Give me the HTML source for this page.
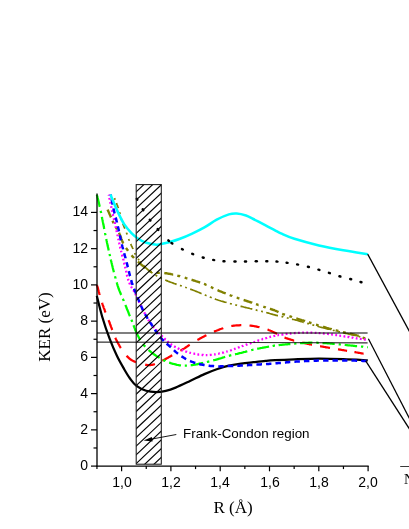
<!DOCTYPE html>
<html><head><meta charset="utf-8"><title>KER chart</title>
<style>
html,body{margin:0;padding:0;background:#fff;}
body{width:409px;height:529px;position:relative;overflow:hidden;font-family:"Liberation Sans",sans-serif;color:#000;}
.yl,.xl,.fc,.xt,.yt span,.nn{will-change:transform;}
.yl{position:absolute;left:39.2px;width:49px;text-align:right;font-size:14px;line-height:16px;height:16px;}
.xl{position:absolute;top:473.8px;width:40px;text-align:center;font-size:14px;line-height:16px;height:16px;}
.fc{position:absolute;left:183.2px;top:425.7px;font-size:13.4px;line-height:15px;white-space:nowrap;}
.xt{position:absolute;left:182.8px;width:100px;text-align:center;top:497.5px;font-family:"Liberation Serif",serif;font-size:17px;line-height:20px;white-space:nowrap;}
.yt{position:absolute;left:45px;top:326.5px;width:0;height:0;}
.yt span{position:absolute;left:-50px;top:-10px;width:100px;height:20px;line-height:20px;text-align:center;font-family:"Liberation Serif",serif;font-size:17px;transform:rotate(-90deg);white-space:nowrap;display:block;}
.nn{position:absolute;left:403.9px;top:471.3px;font-family:"Liberation Serif",serif;font-size:14.5px;line-height:16px;}
</style></head><body>
<svg width="409" height="529" viewBox="0 0 409 529" style="position:absolute;left:0;top:0">
<defs><clipPath id="cp"><rect x="136.2" y="184.6" width="25.1" height="279.6"/></clipPath></defs>
<path d="M96.80 295.90 C97.70 299.37 100.07 309.57 102.20 316.70 C104.33 323.83 107.15 332.18 109.60 338.70 C112.05 345.22 114.47 350.72 116.90 355.80 C119.33 360.88 122.02 365.42 124.20 369.20 C126.38 372.98 127.95 375.72 130.00 378.50 C132.05 381.28 133.80 383.85 136.50 385.90 C139.20 387.95 142.95 389.78 146.20 390.80 C149.45 391.82 152.73 392.00 156.00 392.00 C159.27 392.00 162.53 391.53 165.80 390.80 C169.07 390.07 171.57 389.23 175.60 387.60 C179.63 385.97 185.20 383.25 190.00 381.00 C194.80 378.75 199.95 376.07 204.40 374.10 C208.85 372.13 212.62 370.62 216.70 369.20 C220.78 367.78 224.83 366.53 228.90 365.60 C232.97 364.67 237.03 364.17 241.10 363.60 C245.17 363.03 249.22 362.65 253.30 362.20 C257.38 361.75 261.98 361.23 265.60 360.90 C269.22 360.57 270.20 360.47 275.00 360.20 C279.80 359.93 287.08 359.57 294.40 359.30 C301.72 359.03 310.75 358.63 318.90 358.60 C327.05 358.57 335.15 358.82 343.30 359.10 C351.45 359.38 363.72 360.10 367.80 360.30" fill="none" stroke="#000" stroke-width="2.25" stroke-linecap="butt"/>
<path d="M97.0 284.9 L97.1 285.4 L97.2 286.0 L97.4 286.6 L97.6 287.2 L97.8 287.9 L98.0 288.6 L98.2 289.4 L98.4 290.2 L98.6 291.0 L98.8 291.8 L99.1 292.7 L99.3 293.6 L99.6 294.5 L99.7 294.9 M102.1 302.8 L102.3 303.6 L102.6 304.3 L102.8 305.1 L103.1 305.8 L103.4 306.6 L103.6 307.3 L103.9 308.1 L104.2 308.8 L104.5 309.6 L104.8 310.4 L105.0 311.1 L105.3 311.9 L105.6 312.5 M108.6 320.2 L108.9 321.0 L109.2 321.7 L109.5 322.4 L109.7 323.2 L110.0 324.0 L110.3 324.7 L110.6 325.5 L110.9 326.3 L111.2 327.1 L111.5 327.8 L111.8 328.6 L112.0 329.4 L112.3 330.0 M115.3 337.8 L115.6 338.5 L116.0 339.2 L116.3 339.9 L116.6 340.6 L117.0 341.3 L117.4 342.0 L117.8 342.8 L118.2 343.5 L118.7 344.3 L119.1 345.0 L119.5 345.8 L120.0 346.5 L120.4 347.3 L120.9 348.0 M126.6 355.7 L127.2 356.4 L127.9 357.1 L128.5 357.7 L129.2 358.3 L129.8 358.8 L130.4 359.3 L131.0 359.7 L131.7 360.1 L132.3 360.5 L132.9 360.8 L133.6 361.1 L134.3 361.5 L135.0 361.8 L135.7 362.1 L136.1 362.3 M145.2 364.6 L145.9 364.8 L146.7 364.9 L147.6 365.0 L148.4 365.0 L149.2 365.1 L149.9 365.0 L150.6 365.0 L151.3 364.9 L152.1 364.8 L152.9 364.6 L153.8 364.4 L154.4 364.2 L154.9 364.0 M162.3 360.7 L163.1 360.3 L163.8 360.0 L164.4 359.6 L165.1 359.2 L165.8 358.9 L166.5 358.5 L167.3 358.1 L168.0 357.7 L168.7 357.2 L169.5 356.8 L170.2 356.4 L170.9 356.0 L171.7 355.5 L172.2 355.2 M180.4 350.7 L181.1 350.3 L181.7 349.9 L182.4 349.5 L183.1 349.1 L183.7 348.8 L184.4 348.4 L185.0 348.0 L185.7 347.5 L186.4 347.1 L187.0 346.7 L187.6 346.2 L188.2 345.8 L188.8 345.4 L189.4 344.9 L189.7 344.7 M197.4 340.0 L198.2 339.6 L198.9 339.2 L199.6 338.8 L200.4 338.3 L201.1 337.9 L201.9 337.5 L202.6 337.1 L203.3 336.8 L204.0 336.4 L204.8 336.0 L205.5 335.6 L206.2 335.3 L206.4 335.2 M214.0 331.7 L214.7 331.4 L215.4 331.1 L216.2 330.8 L216.9 330.5 L217.7 330.2 L218.4 329.9 L219.2 329.6 L219.9 329.3 L220.7 329.0 L221.5 328.8 L222.2 328.5 L223.0 328.2 L223.2 328.1 M231.3 326.0 L232.1 325.9 L232.9 325.8 L233.7 325.7 L234.5 325.6 L235.3 325.5 L236.1 325.4 L236.9 325.4 L237.7 325.3 L238.5 325.3 L239.3 325.3 L240.1 325.2 L240.9 325.2 L241.3 325.2 M249.5 325.5 L250.3 325.6 L251.1 325.7 L251.9 325.8 L252.7 325.9 L253.5 326.0 L254.3 326.2 L255.1 326.3 L255.9 326.4 L256.7 326.6 L257.5 326.8 L258.3 327.0 L259.1 327.1 L259.5 327.2 M267.5 329.5 L268.3 329.8 L269.1 330.2 L269.9 330.5 L270.6 330.8 L271.4 331.1 L272.1 331.4 L272.8 331.8 L273.5 332.1 L274.2 332.4 L274.8 332.7 L275.6 333.1 L276.3 333.5 L277.0 333.9 M284.5 337.6 L285.3 337.8 L286.0 338.1 L286.8 338.3 L287.6 338.6 L288.4 338.8 L289.2 339.1 L290.0 339.3 L290.8 339.6 L291.6 339.8 L292.4 340.0 L293.2 340.3 L294.0 340.5 L294.2 340.5 M302.2 342.6 L303.0 342.8 L303.8 342.9 L304.6 343.1 L305.3 343.3 L306.1 343.5 L306.9 343.6 L307.7 343.8 L308.4 344.0 L309.1 344.1 L309.7 344.3 L310.4 344.4 L311.0 344.5 L311.7 344.7 L312.0 344.7 M320.1 346.2 L320.8 346.3 L321.5 346.5 L322.2 346.6 L322.9 346.7 L323.7 346.8 L324.5 347.0 L325.3 347.1 L326.1 347.3 L326.9 347.4 L327.7 347.5 L328.5 347.7 L329.4 347.8 L330.0 347.9 M338.0 349.3 L338.8 349.4 L339.6 349.6 L340.4 349.7 L341.2 349.8 L342.0 350.0 L342.7 350.1 L343.5 350.2 L344.4 350.4 L345.3 350.5 L346.2 350.7 L347.1 350.8 M354.4 352.1 L355.3 352.2 L356.1 352.4 L357.0 352.5 L357.8 352.6 L358.6 352.8 L359.3 352.9 L360.0 353.0 L360.7 353.1 L361.4 353.3 L362.0 353.4 L362.6 353.5 L363.2 353.6 L363.6 353.6" fill="none" stroke="#ff0000" stroke-width="2.25" stroke-linecap="butt"/>
<path d="M96.9 194.8 L97.0 195.3 L97.1 195.8 L97.3 196.3 L97.4 196.8 L97.5 197.4 L97.7 198.1 L97.9 198.7 L98.0 199.4 L98.2 200.1 L98.4 200.9 L98.6 201.7 L98.8 202.5 L99.0 203.4 L99.2 204.3 L99.4 205.2 L99.6 206.2 L99.8 206.9 M100.6 210.9 L100.9 212.0 L101.1 212.9 L101.1 213.0 M101.9 216.8 L102.0 217.5 L102.1 218.2 L102.3 218.9 L102.4 219.7 L102.6 220.4 L102.7 221.2 L102.9 222.0 L103.0 222.7 L103.2 223.5 L103.3 224.3 L103.5 225.1 L103.7 225.9 L103.8 226.8 L104.0 227.6 L104.1 228.4 L104.3 229.0 M105.1 233.0 L105.2 233.9 L105.4 234.7 L105.5 235.2 M106.2 239.0 L106.4 239.8 L106.6 240.7 L106.8 241.5 L106.9 242.4 L107.1 243.2 L107.3 244.0 L107.5 244.8 L107.6 245.6 L107.8 246.4 L108.0 247.2 L108.2 248.0 L108.3 248.8 L108.5 249.6 L108.7 250.4 M109.5 253.9 L109.7 254.7 L109.9 255.5 L110.0 256.2 M110.8 259.5 L111.0 260.4 L111.2 261.2 L111.4 262.0 L111.6 262.9 L111.8 263.7 L112.0 264.6 L112.2 265.4 L112.4 266.2 L112.6 267.0 L112.8 267.9 L113.0 268.7 L113.2 269.5 L113.4 270.3 L113.6 271.1 L113.8 271.9 L113.9 272.3 M115.0 276.3 L115.2 277.0 L115.4 277.7 L115.6 278.4 L115.6 278.6 M116.7 282.4 L116.9 283.0 L117.1 283.8 L117.4 284.8 L117.7 285.8 L118.0 286.7 L118.3 287.6 L118.6 288.5 L118.9 289.3 L119.2 290.1 L119.5 290.9 L119.8 291.6 L120.1 292.3 L120.4 293.0 L120.6 293.7 L120.9 294.4 L121.2 295.0 M122.8 298.7 L123.1 299.4 L123.4 300.0 L123.7 300.7 L123.8 301.1 M125.3 304.9 L125.7 305.7 L126.0 306.4 L126.3 307.2 L126.6 308.0 L126.9 308.8 L127.2 309.6 L127.6 310.4 L127.9 311.1 L128.2 311.9 L128.5 312.7 L128.8 313.5 L129.1 314.2 L129.4 315.0 L129.7 315.7 L130.0 316.2 M131.3 319.7 L131.6 320.3 L132.0 321.2 L132.2 321.9 M133.5 325.3 L133.8 326.0 L134.1 326.7 L134.3 327.4 L134.6 328.1 L134.9 328.8 L135.1 329.5 L135.4 330.2 L135.7 330.9 L136.0 331.6 L136.3 332.2 L136.7 333.0 L137.0 333.7 L137.4 334.5 L137.7 335.2 L138.1 336.0 L138.5 336.7 L138.9 337.4 L139.2 338.2 L139.6 338.9 L140.0 339.6 L140.3 340.1 M143.1 344.2 L143.6 344.9 L144.1 345.5 L144.7 346.1 L145.2 346.7 M148.7 350.0 L149.3 350.6 L149.9 351.1 L150.5 351.6 L151.1 352.1 L151.7 352.6 L152.4 353.1 L153.0 353.6 L153.7 354.1 L154.3 354.6 L155.0 355.0 L155.7 355.5 L156.3 355.9 L157.0 356.4 L157.7 356.8 L158.4 357.2 L159.1 357.6 L159.6 357.9 M163.1 359.9 L163.8 360.3 L164.5 360.6 L165.3 360.9 L165.4 361.0 M169.1 362.6 L169.9 362.8 L170.7 363.1 L171.4 363.3 L172.2 363.6 L173.0 363.8 L173.8 364.0 L174.6 364.2 L175.4 364.4 L176.2 364.6 L177.0 364.8 L177.9 365.0 L178.7 365.1 L179.5 365.3 L180.3 365.4 L181.0 365.5 M184.8 365.7 L185.6 365.7 L186.4 365.7 L186.9 365.7 M190.7 365.3 L191.5 365.2 L192.4 365.1 L193.1 365.0 L193.9 364.8 L194.6 364.7 L195.4 364.6 L196.2 364.4 L197.0 364.3 L197.8 364.1 L198.6 363.9 L199.4 363.7 L200.2 363.6 L201.0 363.4 L201.8 363.2 L202.6 363.0 L203.2 362.9 M206.9 362.0 L207.7 361.8 L208.5 361.6 L209.3 361.4 M213.2 360.4 L214.0 360.2 L214.8 360.0 L215.5 359.8 L216.3 359.6 L217.1 359.4 L217.9 359.2 L218.6 358.9 L219.4 358.7 L220.2 358.5 L221.0 358.2 L221.7 358.0 L222.5 357.7 L223.3 357.5 L224.1 357.2 L224.8 357.0 L225.2 356.9 M228.9 355.8 L229.7 355.6 L230.5 355.4 L231.3 355.2 M235.0 354.3 L235.8 354.1 L236.6 354.0 L237.4 353.8 L238.1 353.6 L238.9 353.4 L239.7 353.2 L240.5 353.0 L241.3 352.9 L242.1 352.7 L242.8 352.5 L243.6 352.2 L244.4 352.0 L245.2 351.8 L245.9 351.6 L246.7 351.4 L247.3 351.2 M251.2 350.2 L251.9 350.0 L252.7 349.8 L253.5 349.7 M257.2 348.9 L258.0 348.7 L258.8 348.5 L259.6 348.4 L260.4 348.2 L261.2 348.0 L262.0 347.9 L262.8 347.7 L263.6 347.6 L264.3 347.4 L265.1 347.3 L265.8 347.2 L266.7 347.0 L267.6 346.8 L268.5 346.7 L269.1 346.6 M272.6 346.0 L273.4 345.8 L274.1 345.7 L274.8 345.6 L275.0 345.6 M278.6 345.2 L279.3 345.1 L280.1 345.0 L281.0 344.9 L281.9 344.8 L282.7 344.7 L283.4 344.7 L284.1 344.6 L284.8 344.5 L285.6 344.4 L286.4 344.4 L287.3 344.3 L288.1 344.2 L288.9 344.1 L289.8 344.0 L290.4 344.0 M294.2 343.6 L295.0 343.6 L295.8 343.5 L296.4 343.4 M300.0 343.2 L300.9 343.1 L301.7 343.1 L302.5 343.0 L303.3 343.0 L304.1 342.9 L304.9 342.9 L305.7 342.8 L306.5 342.8 L307.3 342.8 L308.1 342.8 L308.9 342.7 L309.8 342.7 L310.6 342.7 L311.4 342.7 L312.2 342.7 L312.4 342.7 M316.3 342.7 L317.1 342.7 L317.9 342.8 L318.7 342.8 M322.5 343.0 L323.3 343.0 L324.1 343.1 L324.9 343.1 L325.7 343.2 L326.5 343.2 L327.3 343.3 L328.1 343.4 L328.9 343.4 L329.7 343.5 L330.5 343.6 L331.3 343.6 L332.1 343.7 L332.9 343.8 L333.7 343.8 L334.5 343.9 L334.7 343.9 M338.7 344.3 L339.5 344.4 L340.3 344.5 L340.9 344.6 M344.7 344.9 L345.5 345.0 L346.3 345.1 L347.1 345.2 L347.9 345.3 L348.7 345.3 L349.6 345.4 L350.4 345.5 L351.2 345.6 L352.0 345.6 L352.8 345.7 L353.6 345.8 L354.4 345.9 L355.2 346.0 L356.0 346.0 L356.9 346.1 L357.1 346.1 M361.0 346.5 L361.9 346.6 L362.8 346.7 L363.2 346.8 M367.1 347.1 L367.6 347.2 L367.8 347.2" fill="none" stroke="#00ff00" stroke-width="2.25" stroke-linecap="butt"/>
<path d="M107.6 209.6 L107.8 210.1 L108.1 210.6 L108.3 211.2 L108.6 211.9 L108.9 212.6 L109.3 213.4 L109.6 214.2 L110.0 215.1 L110.4 215.9 L110.7 216.8 L111.0 217.4 M112.5 220.8 L112.9 221.6 L113.2 222.4 L113.6 223.1 L113.6 223.2 M115.8 227.2 L116.2 227.8 L116.6 228.5 L117.0 229.1 L117.2 229.4 M119.0 232.8 L119.3 233.5 L119.7 234.3 L120.0 235.0 L120.3 235.8 L120.6 236.6 L120.9 237.4 L121.2 238.3 L121.5 239.1 L121.8 239.8 L122.1 240.6 L122.4 241.3 L122.6 242.0 L122.9 242.7 L123.2 243.3 L123.3 243.5 M125.9 247.9 L126.4 248.5 L126.9 249.2 L127.3 249.8 L127.8 250.5 L128.0 250.8 M131.6 255.3 L132.1 256.0 L132.7 256.6 L133.2 257.1 L133.8 257.7 L134.0 258.0 M137.9 261.7 L138.5 262.2 L139.1 262.8 L139.7 263.3 L140.3 263.8 L141.0 264.3 L141.6 264.9 L142.3 265.4 L142.9 265.9 L143.6 266.4 L144.2 266.9 L144.8 267.4 L145.5 267.9 M149.0 270.6 L149.7 271.0 L150.3 271.5 L151.0 271.8 L151.6 272.1 M156.7 272.9 L157.4 272.9 L158.2 272.9 L159.0 272.9 L159.8 272.9 M164.3 273.0 L164.9 273.1 L165.6 273.2 L166.4 273.3 L167.1 273.4 L167.9 273.6 L168.8 273.7 L169.6 273.9 L170.5 274.0 L171.3 274.2 L172.2 274.4 L173.0 274.6 L173.2 274.6 M177.3 275.6 L178.1 275.8 L178.9 276.0 L179.7 276.2 L180.1 276.4 M184.7 277.7 L185.4 277.9 L186.3 278.2 L187.0 278.4 L187.4 278.5 M191.5 279.8 L192.4 280.0 L193.0 280.2 L193.7 280.5 L194.4 280.7 L195.1 280.9 L195.8 281.1 L196.6 281.3 L197.4 281.6 L198.2 281.8 L199.0 282.1 L199.8 282.4 L200.2 282.5 M204.0 283.8 L204.8 284.1 L205.5 284.5 L206.2 284.8 L206.6 284.9 M210.8 287.0 L211.6 287.3 L212.3 287.7 L213.0 288.1 L213.4 288.3 M217.5 290.1 L218.2 290.4 L219.0 290.8 L219.7 291.1 L220.5 291.4 L221.2 291.7 L222.0 292.0 L222.7 292.3 L223.5 292.6 L224.2 292.9 L225.0 293.2 L225.7 293.5 M229.7 295.0 L230.4 295.3 L231.2 295.6 L232.0 295.8 L232.3 296.0 M236.7 297.6 L237.5 297.8 L238.2 298.1 L239.0 298.4 L239.4 298.5 M243.6 300.0 L244.3 300.2 L245.1 300.5 L245.9 300.7 L246.6 301.0 L247.4 301.2 L248.1 301.5 L248.9 301.7 L249.7 302.0 L250.4 302.2 L251.2 302.5 L252.0 302.7 L252.2 302.8 M256.0 304.1 L256.8 304.4 L257.6 304.7 L258.4 305.0 L258.6 305.0 M263.3 306.6 L264.0 306.9 L264.7 307.1 L265.4 307.3 L265.8 307.5 M269.9 308.8 L270.7 309.0 L271.5 309.3 L272.2 309.5 L272.9 309.8 L273.6 310.0 L274.3 310.2 L275.0 310.5 L275.8 310.8 L276.5 311.2 L277.2 311.5 L277.9 311.8 L278.5 312.1 M282.2 313.8 L282.8 314.0 L283.5 314.3 L284.2 314.5 L284.9 314.8 M289.4 316.2 L290.2 316.5 L291.0 316.7 L291.8 317.0 L292.0 317.1 M296.3 318.4 L297.1 318.6 L297.9 318.9 L298.6 319.1 L299.4 319.4 L300.2 319.6 L300.9 319.8 L301.7 320.1 L302.5 320.3 L303.2 320.5 L304.0 320.8 L304.8 321.0 L305.0 321.1 M308.8 322.3 L309.6 322.5 L310.3 322.8 L311.1 323.0 L311.5 323.1 M316.0 324.6 L316.8 324.8 L317.6 325.1 L318.3 325.3 L318.7 325.4 M323.0 326.7 L323.7 327.0 L324.5 327.2 L325.3 327.4 L326.1 327.7 L326.8 327.9 L327.6 328.1 L328.4 328.3 L329.2 328.6 L329.9 328.8 L330.7 329.0 L331.5 329.2 L331.7 329.3 M335.6 330.3 L336.4 330.5 L337.2 330.7 L338.0 330.9 L338.4 331.0 M342.9 332.1 L343.7 332.3 L344.5 332.5 L345.3 332.7 L345.7 332.8 M349.9 333.7 L350.7 333.9 L351.5 334.0 L352.3 334.2 L353.1 334.4 L353.8 334.6 L354.5 334.7 L355.1 334.9 L355.9 335.1 L356.9 335.4 L357.8 335.6 L358.6 335.9 L358.8 335.9 M362.6 337.5 L363.4 337.8 L364.3 338.2 L365.1 338.6" fill="none" stroke="#808000" stroke-width="2.4" stroke-linecap="butt"/>
<path d="M114.5 198.1 L114.8 198.8 L115.1 199.6 L115.2 199.8 M116.5 203.0 L116.8 203.9 L117.1 204.8 L117.5 205.6 L117.8 206.5 L118.1 207.3 L118.4 208.1 M119.6 212.1 L119.8 212.9 L120.0 213.7 L120.0 213.9 M121.2 218.4 L121.4 219.2 L121.6 219.9 L121.7 220.3 M122.8 223.6 L123.1 224.4 L123.4 225.2 L123.7 225.9 L124.0 226.7 L124.3 227.4 L124.6 228.1 L124.9 228.6 M126.5 232.6 L126.7 233.4 L127.0 234.1 L127.1 234.5 M128.6 239.0 L128.9 239.8 L129.2 240.6 L129.2 240.8 M130.7 244.0 L131.1 244.8 L131.4 245.6 L131.8 246.3 L132.2 247.1 L132.5 247.8 L132.9 248.5 L133.1 249.0 M134.7 253.0 L135.0 253.7 L135.3 254.3 L135.5 254.7 M138.1 258.8 L138.6 259.6 L139.1 260.2" fill="none" stroke="#808000" stroke-width="1.7" stroke-linecap="butt"/>
<path d="M140.0 261.5 L140.3 261.9 L140.7 262.3 L141.1 262.7 M143.4 265.3 L144.0 266.0 L144.7 266.7 L145.3 267.3 L145.9 267.9 L146.5 268.4 L147.1 269.0 L147.7 269.5 L148.4 270.1 L149.0 270.6 L149.6 271.1 L150.3 271.5 L150.9 272.0 L151.5 272.5 L152.2 272.9 L152.5 273.2 M155.5 275.1 L156.2 275.5 L156.9 275.9 L157.3 276.1 M160.3 277.8 L161.0 278.1 L161.6 278.5 L162.0 278.6 M165.2 280.1 L165.8 280.3 L166.6 280.6 L167.3 280.9 L168.2 281.3 L169.0 281.6 L169.8 281.9 L170.7 282.2 L171.5 282.5 L172.3 282.8 L173.1 283.1 L173.9 283.4 L174.5 283.6 L175.2 283.8 L175.9 284.1 L176.6 284.4 M180.0 285.4 L180.5 285.6 L181.2 285.8 L181.8 286.0 M185.2 287.2 L186.0 287.5 L186.9 287.8 M190.2 289.1 L191.0 289.4 L191.8 289.7 L192.6 289.9 L193.3 290.2 L194.1 290.5 L194.8 290.8 L195.6 291.1 L196.3 291.4 L197.1 291.7 L197.8 292.0 L198.6 292.3 L199.3 292.6 L200.1 292.9 L200.8 293.3 L201.6 293.6 M204.8 294.8 L205.5 295.2 L206.3 295.5 L206.6 295.6 M209.8 296.9 L210.5 297.2 L211.3 297.5 L211.7 297.7 M214.8 298.9 L215.6 299.2 L216.3 299.5 L217.1 299.7 L217.9 300.0 L218.6 300.2 L219.4 300.5 L220.2 300.7 L221.0 301.0 L221.7 301.2 L222.5 301.4 L223.3 301.6 L224.1 301.9 L224.8 302.1 L225.6 302.3 L226.4 302.5 L226.6 302.6 M229.9 303.5 L230.6 303.7 L231.4 303.9 L231.8 304.0 M235.3 304.9 L236.1 305.1 L236.8 305.3 L237.0 305.4 M240.5 306.3 L241.3 306.4 L242.1 306.6 L242.9 306.8 L243.7 307.0 L244.4 307.2 L245.2 307.4 L246.0 307.6 L246.8 307.8 L247.6 308.0 L248.4 308.1 L249.2 308.3 L249.9 308.5 L250.7 308.7 L251.5 308.9 L252.3 309.1 M255.7 309.9 L256.5 310.1 L257.3 310.3 L257.5 310.3 M261.1 311.2 L261.9 311.4 L262.7 311.6 L262.9 311.6 M266.2 312.5 L267.0 312.7 L267.7 312.9 L268.4 313.1 L269.1 313.3 L269.7 313.5 L270.4 313.7 L271.0 313.9 L271.8 314.1 L272.7 314.4 L273.6 314.6 L274.7 314.9 L275.4 315.1 L276.1 315.3 L276.7 315.4 L277.3 315.6 L278.0 315.7 M281.5 316.6 L282.3 316.7 L283.1 316.9 L283.3 317.0 M286.8 317.8 L287.6 318.0 L288.5 318.2 L288.7 318.3 M292.0 319.1 L292.8 319.3 L293.7 319.5 L294.6 319.7 L295.3 319.9 L296.0 320.1 L296.7 320.3 L297.4 320.5 L298.2 320.7 L298.9 320.9 L299.6 321.2 L300.4 321.4 L301.2 321.6 L301.9 321.8 L302.7 322.0 L303.5 322.3 L303.7 322.3 M307.2 323.4 L308.0 323.6 L308.8 323.8 L309.0 323.9 M312.4 324.9 L313.2 325.1 L314.0 325.3 L314.2 325.4 M317.5 326.3 L318.3 326.5 L319.1 326.8 L319.9 327.0 L320.7 327.2 L321.5 327.4 L322.3 327.6 L323.1 327.8 L323.9 328.0 L324.8 328.2 L325.6 328.4 L326.4 328.7 L327.3 328.9 L328.1 329.1 L328.9 329.3 L329.3 329.4 M332.8 330.3 L333.6 330.5 L334.4 330.6 L334.6 330.7 M338.1 331.5 L338.9 331.7 L339.6 331.9 L339.9 332.0 M343.6 332.9 L344.6 333.1 L345.5 333.3 L346.5 333.5 L347.4 333.7 L348.3 333.9 L349.1 334.1 L349.9 334.3 L350.7 334.4 L351.5 334.6 L352.2 334.8 L352.9 334.9 L353.6 335.1 L354.3 335.2 L355.0 335.4 L355.2 335.4 M358.7 336.4 L359.6 336.7 L360.3 337.0 M363.8 338.4 L364.6 338.8 L365.3 339.1 L365.5 339.2" fill="none" stroke="#808000" stroke-width="1.7" stroke-linecap="butt"/>
<path d="M108.7 194.6 L108.8 195.0 L108.9 195.5 L108.9 195.7 M109.4 197.9 L109.5 198.7 L109.7 199.5 L109.7 199.7 M110.2 202.1 L110.4 203.0 L110.6 203.6 M111.1 206.2 L111.3 207.1 L111.4 207.8 M111.9 210.2 L112.1 210.9 L112.3 211.7 L112.3 211.8 M112.8 214.1 L113.0 214.9 L113.1 215.7 L113.2 215.9 M113.7 218.2 L113.9 219.0 L114.1 219.8 L114.1 220.0 M114.6 222.2 L114.8 223.0 L115.0 223.8 L115.0 224.0 M115.5 226.2 L115.7 227.0 L115.9 227.8 L115.9 228.0 M116.4 230.3 L116.6 231.1 L116.8 231.9 L116.8 232.1 M117.3 234.5 L117.5 235.2 L117.7 236.0 L117.7 236.2 M118.2 238.6 L118.4 239.3 L118.6 240.1 L118.6 240.3 M119.1 242.5 L119.3 243.3 L119.4 244.0 L119.5 244.2 M120.0 246.6 L120.2 247.4 L120.4 248.2 L120.5 248.3 M121.0 250.7 L121.2 251.5 L121.4 252.3 M122.0 254.6 L122.2 255.4 L122.4 256.2 L122.5 256.4 M123.1 258.7 L123.3 259.5 L123.5 260.3 L123.5 260.5 M124.1 262.6 L124.3 263.4 L124.4 264.2 L124.5 264.4 M125.1 266.8 L125.3 267.6 L125.5 268.4 M126.0 270.7 L126.2 271.6 L126.4 272.4 L126.4 272.6 M126.9 274.8 L127.1 275.6 L127.3 276.4 L127.4 276.6 M128.0 278.9 L128.2 279.6 L128.4 280.3 L128.5 280.5 M129.3 282.7 L129.6 283.5 L130.0 284.3 L130.0 284.5 M131.1 286.4 L131.4 287.0 L131.8 287.7 L132.0 288.0 M133.3 290.1 L133.7 290.7 L134.1 291.4 L134.3 291.6 M135.3 293.6 L135.6 294.2 L135.9 294.9 L136.1 295.2 M137.0 297.3 L137.4 298.0 L137.7 298.8 L137.8 299.0 M138.8 301.2 L139.1 302.0 L139.5 302.8 M140.4 304.9 L140.8 305.6 L141.2 306.4 L141.2 306.6 M142.3 308.8 L142.7 309.5 L143.1 310.2 M144.2 312.4 L144.6 313.1 L145.0 313.9 M146.2 316.1 L146.6 316.8 L147.0 317.5 L147.1 317.7 M148.2 319.6 L148.6 320.3 L149.1 320.9 L149.2 321.1 M150.5 323.1 L150.9 323.7 L151.4 324.4 L151.5 324.5 M152.9 326.4 L153.4 327.0 L154.0 327.7 L154.1 327.8 M155.7 329.6 L156.3 330.2 L156.8 330.8 L156.9 331.0 M158.6 332.7 L159.1 333.2 L159.7 333.8 L159.8 333.9 M161.5 335.6 L162.1 336.2 L162.7 336.8 M164.3 338.4 L164.9 339.0 L165.5 339.6 L165.7 339.7 M167.4 341.3 L168.0 341.9 L168.6 342.4 L168.8 342.5 M170.6 343.9 L171.2 344.4 L171.9 344.9 L172.1 345.0 M174.1 346.3 L174.8 346.7 L175.5 347.1 L175.7 347.2 M177.7 348.2 L178.5 348.6 L179.2 348.9 L179.4 349.0 M181.6 350.0 L182.3 350.2 L183.0 350.5 L183.2 350.6 M185.3 351.3 L186.1 351.6 L186.9 351.8 L187.1 351.9 M189.4 352.6 L190.2 352.8 L191.0 353.0 M193.4 353.6 L194.2 353.7 L195.0 353.9 L195.2 353.9 M197.4 354.4 L198.2 354.5 L199.0 354.6 L199.2 354.6 M201.6 354.9 L202.4 355.0 L203.2 355.0 L203.4 355.1 M205.8 355.1 L206.6 355.1 L207.4 355.1 M209.8 355.0 L210.7 354.9 L211.5 354.8 L211.7 354.8 M214.1 354.5 L214.9 354.4 L215.7 354.3 M218.1 353.8 L218.8 353.7 L219.6 353.5 L219.8 353.5 M222.1 352.9 L222.9 352.7 L223.7 352.5 L223.9 352.4 M226.2 351.7 L227.0 351.5 L227.7 351.3 M230.0 350.5 L230.8 350.3 L231.6 350.0 L231.8 349.9 M234.0 349.1 L234.8 348.8 L235.6 348.5 M237.9 347.7 L238.6 347.4 L239.4 347.1 L239.6 347.0 M241.7 346.3 L242.4 346.0 L243.2 345.8 L243.4 345.7 M245.7 344.9 L246.4 344.6 L247.2 344.4 L247.4 344.3 M249.7 343.5 L250.4 343.3 L251.2 343.0 L251.4 342.9 M253.5 342.2 L254.3 342.0 L255.0 341.7 L255.2 341.6 M257.4 340.9 L258.2 340.6 L259.0 340.3 L259.2 340.3 M261.4 339.5 L262.2 339.3 L262.9 339.0 L263.1 339.0 M265.3 338.3 L266.0 338.1 L266.9 337.8 L267.1 337.7 M269.4 337.1 L270.2 336.9 L271.0 336.7 M273.4 336.2 L274.1 336.0 L274.8 335.8 L275.2 335.7 M277.4 335.3 L278.1 335.2 L278.8 335.0 L279.1 335.0 M281.4 334.6 L282.4 334.5 L283.0 334.4 L283.4 334.3 M285.6 334.0 L286.4 333.9 L287.3 333.8 L287.5 333.8 M289.8 333.5 L290.6 333.5 L291.5 333.4 M293.8 333.1 L294.6 333.1 L295.4 333.0 L295.6 333.0 M298.0 332.9 L298.8 332.8 L299.6 332.8 L299.8 332.8 M302.3 332.7 L303.1 332.6 L303.9 332.6 M306.3 332.6 L307.1 332.6 L307.9 332.6 L308.1 332.6 M310.5 332.7 L311.3 332.7 L312.1 332.7 L312.3 332.7 M314.7 332.8 L315.5 332.9 L316.3 332.9 L316.5 332.9 M318.7 333.1 L319.5 333.1 L320.3 333.2 L320.5 333.2 M322.9 333.4 L323.7 333.5 L324.5 333.6 L324.7 333.6 M327.1 333.8 L327.9 333.9 L328.7 334.0 L328.9 334.0 M331.1 334.3 L331.9 334.4 L332.7 334.5 L332.9 334.5 M335.3 334.9 L336.1 335.0 L336.9 335.2 L337.1 335.2 M339.3 335.5 L340.1 335.7 L340.9 335.8 L341.1 335.8 M343.5 336.2 L344.3 336.4 L345.1 336.5 L345.3 336.5 M347.5 336.9 L348.3 337.0 L349.1 337.1 L349.3 337.2 M351.6 337.6 L352.4 337.7 L353.2 337.8 L353.4 337.9 M355.8 338.2 L356.6 338.4 L357.5 338.5 M359.8 338.8 L360.7 338.9 L361.7 339.1 M363.9 339.4 L364.7 339.5 L365.5 339.6 L365.8 339.6" fill="none" stroke="#ff00ff" stroke-width="2.3" stroke-linecap="butt"/>
<path d="M110.7 194.5 L110.8 194.9 L110.9 195.4 L110.9 195.6 M111.6 199.5 L111.8 200.3 L112.0 201.2 L112.2 202.1 L112.3 203.0 L112.5 203.9 L112.7 204.6 M113.5 208.3 L113.6 209.2 L113.8 209.9 L114.0 210.6 L114.1 211.4 L114.3 212.1 L114.5 212.9 L114.7 213.5 M115.6 217.5 L115.9 218.3 L116.1 219.1 L116.3 219.9 L116.5 220.7 L116.7 221.5 L116.9 222.3 L116.9 222.5 M117.8 226.2 L118.0 227.0 L118.2 227.8 L118.4 228.6 L118.5 229.4 L118.7 230.2 L118.9 231.0 L119.0 231.4 M119.8 235.4 L120.0 236.1 L120.2 236.9 L120.3 237.7 L120.5 238.4 L120.7 239.2 L120.8 240.0 L120.9 240.4 M121.8 244.2 L122.0 245.0 L122.2 245.7 L122.4 246.5 L122.6 247.2 L122.8 248.0 L123.0 248.8 L123.1 249.4 M124.2 253.3 L124.4 254.1 L124.6 254.9 L124.8 255.7 L125.1 256.5 L125.3 257.3 L125.5 258.1 L125.5 258.3 M126.6 262.2 L126.8 263.0 L127.0 263.8 L127.2 264.6 L127.4 265.4 L127.6 266.2 L127.8 267.0 L127.9 267.2 M128.8 271.1 L129.0 271.9 L129.2 272.7 L129.4 273.5 L129.6 274.3 L129.8 275.1 L130.0 275.9 L130.1 276.1 M131.1 280.1 L131.3 280.7 L131.5 281.4 L131.7 282.1 L131.9 282.9 L132.2 283.8 L132.5 284.6 L132.6 285.0 M134.0 288.8 L134.3 289.4 L134.6 290.1 L134.9 290.8 L135.2 291.5 L135.5 292.2 L135.8 293.0 L136.1 293.6 M137.5 297.2 L137.8 297.9 L138.1 298.7 L138.4 299.4 L138.7 300.2 L139.0 300.9 L139.3 301.7 L139.4 302.1 M141.0 305.8 L141.3 306.5 L141.7 307.3 L142.0 308.1 L142.3 308.8 L142.7 309.6 L143.1 310.3 L143.2 310.5 M145.1 314.1 L145.5 314.9 L145.9 315.6 L146.3 316.3 L146.8 317.0 L147.2 317.8 L147.6 318.5 L147.7 318.7 M149.9 322.0 L150.3 322.7 L150.8 323.4 L151.2 324.0 L151.6 324.7 L152.0 325.3 L152.4 325.9 L152.7 326.4 M154.9 329.7 L155.3 330.4 L155.8 331.1 L156.2 331.8 L156.7 332.4 L157.1 333.0 L157.5 333.7 L157.7 334.0 M160.2 337.2 L160.8 337.8 L161.3 338.4 L161.8 339.0 L162.4 339.6 L162.9 340.2 L163.5 340.7 L163.8 341.0 M166.6 343.6 L167.3 344.2 L167.9 344.7 L168.5 345.2 L169.1 345.8 L169.7 346.3 L170.3 346.8 L170.9 347.3 M174.0 350.2 L174.6 350.8 L175.1 351.3 L175.7 351.9 L176.3 352.4 L176.9 352.9 L177.5 353.4 L178.0 353.8 M181.4 356.3 L182.1 356.7 L182.8 357.1 L183.5 357.5 L184.2 358.0 L184.9 358.4 L185.6 358.8 L186.2 359.1 M190.0 361.0 L190.8 361.3 L191.5 361.6 L192.2 361.9 L193.0 362.2 L193.7 362.5 L194.5 362.7 L195.3 363.0 M199.1 364.0 L199.9 364.2 L200.7 364.4 L201.5 364.5 L202.3 364.7 L203.0 364.8 L203.8 365.0 L204.6 365.1 M208.6 365.7 L209.4 365.8 L210.2 365.9 L211.1 366.0 L211.9 366.0 L212.7 366.1 L213.5 366.1 L214.1 366.2 M218.3 366.3 L219.1 366.4 L219.9 366.4 L220.7 366.3 L221.5 366.3 L222.3 366.3 L223.1 366.3 L223.7 366.3 M227.7 366.1 L228.5 366.1 L229.3 366.1 L230.1 366.1 L230.9 366.0 L231.7 366.0 L232.5 366.0 L233.3 366.0 M237.3 365.8 L238.1 365.8 L238.9 365.7 L239.7 365.7 L240.5 365.6 L241.3 365.6 L242.1 365.5 L242.9 365.5 M246.9 365.2 L247.7 365.2 L248.5 365.1 L249.3 365.1 L250.1 365.0 L250.9 365.0 L251.7 364.9 L252.3 364.9 M256.4 364.6 L257.2 364.6 L258.1 364.5 L258.9 364.5 L259.7 364.4 L260.6 364.4 L261.4 364.3 L262.0 364.3 M266.0 364.1 L266.9 364.0 L267.6 364.0 L268.3 363.9 L269.0 363.9 L269.6 363.8 L270.3 363.8 L271.0 363.7 L271.4 363.7 M275.5 363.4 L276.1 363.3 L276.7 363.2 L277.4 363.2 L278.1 363.1 L278.8 363.1 L279.5 363.0 L280.3 362.9 L280.9 362.9 M284.9 362.5 L285.8 362.4 L286.6 362.3 L287.5 362.2 L288.4 362.2 L289.2 362.1 L290.1 362.0 L290.3 362.0 M294.4 361.7 L295.1 361.7 L295.9 361.6 L296.6 361.6 L297.4 361.5 L298.1 361.5 L298.9 361.4 L299.7 361.4 L299.9 361.4 M303.9 361.2 L304.7 361.1 L305.5 361.1 L306.3 361.1 L307.2 361.0 L308.0 361.0 L308.8 360.9 L309.4 360.9 M313.6 360.8 L314.4 360.7 L315.2 360.7 L316.1 360.7 L316.9 360.7 L317.7 360.6 L318.5 360.6 L318.9 360.6 M323.1 360.5 L323.9 360.5 L324.7 360.5 L325.5 360.5 L326.3 360.4 L327.1 360.4 L327.9 360.4 L328.5 360.4 M332.5 360.4 L333.3 360.4 L334.1 360.4 L334.9 360.4 L335.7 360.4 L336.5 360.4 L337.3 360.4 L337.9 360.4 M342.1 360.4 L342.9 360.4 L343.7 360.4 L344.5 360.4 L345.4 360.4 L346.2 360.4 L347.1 360.5 L347.4 360.5 M351.5 360.5 L352.4 360.6 L353.4 360.6 L354.3 360.6 L355.2 360.6 L356.2 360.7 L357.1 360.7 M361.2 360.8 L362.0 360.8 L362.7 360.9 L363.5 360.9 L364.2 360.9 L364.9 360.9 L365.5 360.9 L366.1 361.0 L366.5 361.0" fill="none" stroke="#0000ff" stroke-width="2.5" stroke-linecap="butt"/>
<path d="M110.40 194.60 C111.75 197.73 116.18 208.43 118.50 213.40 C120.82 218.37 122.10 221.08 124.30 224.40 C126.50 227.72 129.25 230.83 131.70 233.30 C134.15 235.77 136.57 237.62 139.00 239.20 C141.43 240.78 143.63 241.90 146.30 242.80 C148.97 243.70 152.72 244.35 155.00 244.60 C157.28 244.85 157.50 244.73 160.00 244.30 C162.50 243.87 166.67 242.92 170.00 242.00 C173.33 241.08 176.30 240.20 180.00 238.80 C183.70 237.40 188.13 235.50 192.20 233.60 C196.27 231.70 200.32 229.72 204.40 227.40 C208.48 225.08 212.62 221.87 216.70 219.70 C220.78 217.53 225.57 215.43 228.90 214.40 C232.23 213.37 233.85 213.32 236.70 213.50 C239.55 213.68 243.23 214.58 246.00 215.50 C248.77 216.42 250.03 217.37 253.30 219.00 C256.57 220.63 261.98 223.42 265.60 225.30 C269.22 227.18 272.23 228.87 275.00 230.30 C277.77 231.73 278.97 232.48 282.20 233.90 C285.43 235.32 288.28 236.88 294.40 238.80 C300.52 240.72 310.75 243.48 318.90 245.40 C327.05 247.32 335.15 248.83 343.30 250.30 C351.45 251.77 363.72 253.55 367.80 254.20" fill="none" stroke="#00ffff" stroke-width="2.55" stroke-linecap="butt"/>
<line x1="136.75" y1="198.87" x2="137.25" y2="199.73" stroke="#000" stroke-width="2.45" stroke-linecap="round"/>
<line x1="142.73" y1="209.28" x2="143.27" y2="210.12" stroke="#000" stroke-width="2.45" stroke-linecap="round"/>
<line x1="149.80" y1="219.70" x2="150.40" y2="220.50" stroke="#000" stroke-width="2.45" stroke-linecap="round"/>
<line x1="157.66" y1="229.13" x2="158.34" y2="229.87" stroke="#000" stroke-width="2.45" stroke-linecap="round"/>
<line x1="168.34" y1="240.35" x2="169.06" y2="241.05" stroke="#000" stroke-width="2.45" stroke-linecap="round"/>
<line x1="171.48" y1="242.93" x2="172.32" y2="243.47" stroke="#000" stroke-width="2.45" stroke-linecap="round"/>
<line x1="181.96" y1="249.07" x2="182.84" y2="249.53" stroke="#000" stroke-width="2.45" stroke-linecap="round"/>
<line x1="192.24" y1="253.81" x2="193.16" y2="254.19" stroke="#000" stroke-width="2.45" stroke-linecap="round"/>
<line x1="202.72" y1="257.46" x2="203.68" y2="257.74" stroke="#000" stroke-width="2.45" stroke-linecap="round"/>
<line x1="213.21" y1="259.91" x2="214.19" y2="260.09" stroke="#000" stroke-width="2.45" stroke-linecap="round"/>
<line x1="223.50" y1="261.26" x2="224.50" y2="261.34" stroke="#000" stroke-width="2.45" stroke-linecap="round"/>
<line x1="234.50" y1="261.50" x2="235.50" y2="261.50" stroke="#000" stroke-width="2.45" stroke-linecap="round"/>
<line x1="245.00" y1="261.50" x2="246.00" y2="261.50" stroke="#000" stroke-width="2.45" stroke-linecap="round"/>
<line x1="255.80" y1="261.30" x2="256.80" y2="261.30" stroke="#000" stroke-width="2.45" stroke-linecap="round"/>
<line x1="266.30" y1="261.29" x2="267.30" y2="261.31" stroke="#000" stroke-width="2.45" stroke-linecap="round"/>
<line x1="276.50" y1="261.56" x2="277.50" y2="261.64" stroke="#000" stroke-width="2.45" stroke-linecap="round"/>
<line x1="286.60" y1="262.73" x2="287.60" y2="262.87" stroke="#000" stroke-width="2.45" stroke-linecap="round"/>
<line x1="297.11" y1="264.41" x2="298.09" y2="264.59" stroke="#000" stroke-width="2.45" stroke-linecap="round"/>
<line x1="307.91" y1="266.78" x2="308.89" y2="267.02" stroke="#000" stroke-width="2.45" stroke-linecap="round"/>
<line x1="318.42" y1="269.66" x2="319.38" y2="269.94" stroke="#000" stroke-width="2.45" stroke-linecap="round"/>
<line x1="328.92" y1="272.85" x2="329.88" y2="273.15" stroke="#000" stroke-width="2.45" stroke-linecap="round"/>
<line x1="339.42" y1="276.26" x2="340.38" y2="276.54" stroke="#000" stroke-width="2.45" stroke-linecap="round"/>
<line x1="350.22" y1="278.97" x2="351.18" y2="279.23" stroke="#000" stroke-width="2.45" stroke-linecap="round"/>
<line x1="360.52" y1="281.96" x2="361.48" y2="282.24" stroke="#000" stroke-width="2.45" stroke-linecap="round"/>
<g style="mix-blend-mode:multiply"><line x1="97" y1="333.1" x2="367.6" y2="332.9" stroke="#555" stroke-width="1.5"/><line x1="97" y1="342.1" x2="367.6" y2="342.8" stroke="#333" stroke-width="1.15"/></g>
<g clip-path="url(#cp)" stroke="#000" stroke-width="1.15"><line x1="135.00" y1="160.00" x2="162.30" y2="134.34"/><line x1="135.00" y1="168.21" x2="162.30" y2="142.55"/><line x1="135.00" y1="176.44" x2="162.30" y2="150.77"/><line x1="135.00" y1="184.68" x2="162.30" y2="159.01"/><line x1="135.00" y1="192.93" x2="162.30" y2="167.27"/><line x1="135.00" y1="201.20" x2="162.30" y2="175.53"/><line x1="135.00" y1="209.48" x2="162.30" y2="183.81"/><line x1="135.00" y1="217.77" x2="162.30" y2="192.11"/><line x1="135.00" y1="226.08" x2="162.30" y2="200.42"/><line x1="135.00" y1="234.41" x2="162.30" y2="208.75"/><line x1="135.00" y1="242.75" x2="162.30" y2="217.09"/><line x1="135.00" y1="251.10" x2="162.30" y2="225.44"/><line x1="135.00" y1="259.47" x2="162.30" y2="233.81"/><line x1="135.00" y1="267.85" x2="162.30" y2="242.19"/><line x1="135.00" y1="276.25" x2="162.30" y2="250.59"/><line x1="135.00" y1="284.66" x2="162.30" y2="259.00"/><line x1="135.00" y1="293.08" x2="162.30" y2="267.42"/><line x1="135.00" y1="301.52" x2="162.30" y2="275.86"/><line x1="135.00" y1="309.98" x2="162.30" y2="284.32"/><line x1="135.00" y1="318.45" x2="162.30" y2="292.79"/><line x1="135.00" y1="326.93" x2="162.30" y2="301.27"/><line x1="135.00" y1="335.43" x2="162.30" y2="309.77"/><line x1="135.00" y1="343.94" x2="162.30" y2="318.28"/><line x1="135.00" y1="352.47" x2="162.30" y2="326.81"/><line x1="135.00" y1="361.01" x2="162.30" y2="335.35"/><line x1="135.00" y1="369.56" x2="162.30" y2="343.90"/><line x1="135.00" y1="378.13" x2="162.30" y2="352.47"/><line x1="135.00" y1="386.72" x2="162.30" y2="361.05"/><line x1="135.00" y1="395.32" x2="162.30" y2="369.65"/><line x1="135.00" y1="403.93" x2="162.30" y2="378.27"/><line x1="135.00" y1="412.56" x2="162.30" y2="386.89"/><line x1="135.00" y1="421.20" x2="162.30" y2="395.53"/><line x1="135.00" y1="429.85" x2="162.30" y2="404.19"/><line x1="135.00" y1="438.52" x2="162.30" y2="412.86"/><line x1="135.00" y1="447.21" x2="162.30" y2="421.55"/><line x1="135.00" y1="455.91" x2="162.30" y2="430.25"/><line x1="135.00" y1="464.62" x2="162.30" y2="438.96"/><line x1="135.00" y1="473.35" x2="162.30" y2="447.69"/><line x1="135.00" y1="482.09" x2="162.30" y2="456.43"/><line x1="135.00" y1="490.85" x2="162.30" y2="465.19"/></g>
<rect x="136.2" y="184.6" width="25.1" height="279.6" fill="none" stroke="#1a1a1a" stroke-width="1.05"/>
<line x1="97" y1="193.5" x2="97" y2="466.5" stroke="#000" stroke-width="1.3"/>
<line x1="96.4" y1="466.1" x2="368.7" y2="466.1" stroke="#000" stroke-width="1.3"/>
<line x1="91.0" y1="466.10" x2="97" y2="466.10" stroke="#000" stroke-width="1.2"/>
<line x1="93.5" y1="447.98" x2="97" y2="447.98" stroke="#000" stroke-width="1.2"/>
<line x1="91.0" y1="429.86" x2="97" y2="429.86" stroke="#000" stroke-width="1.2"/>
<line x1="93.5" y1="411.74" x2="97" y2="411.74" stroke="#000" stroke-width="1.2"/>
<line x1="91.0" y1="393.62" x2="97" y2="393.62" stroke="#000" stroke-width="1.2"/>
<line x1="93.5" y1="375.50" x2="97" y2="375.50" stroke="#000" stroke-width="1.2"/>
<line x1="91.0" y1="357.38" x2="97" y2="357.38" stroke="#000" stroke-width="1.2"/>
<line x1="93.5" y1="339.26" x2="97" y2="339.26" stroke="#000" stroke-width="1.2"/>
<line x1="91.0" y1="321.14" x2="97" y2="321.14" stroke="#000" stroke-width="1.2"/>
<line x1="93.5" y1="303.02" x2="97" y2="303.02" stroke="#000" stroke-width="1.2"/>
<line x1="91.0" y1="284.90" x2="97" y2="284.90" stroke="#000" stroke-width="1.2"/>
<line x1="93.5" y1="266.78" x2="97" y2="266.78" stroke="#000" stroke-width="1.2"/>
<line x1="91.0" y1="248.66" x2="97" y2="248.66" stroke="#000" stroke-width="1.2"/>
<line x1="93.5" y1="230.54" x2="97" y2="230.54" stroke="#000" stroke-width="1.2"/>
<line x1="91.0" y1="212.42" x2="97" y2="212.42" stroke="#000" stroke-width="1.2"/>
<line x1="96.95" y1="466.1" x2="96.95" y2="469.1" stroke="#000" stroke-width="1.2"/>
<line x1="121.60" y1="466.1" x2="121.60" y2="471.3" stroke="#000" stroke-width="1.2"/>
<line x1="146.25" y1="466.1" x2="146.25" y2="469.1" stroke="#000" stroke-width="1.2"/>
<line x1="170.90" y1="466.1" x2="170.90" y2="471.3" stroke="#000" stroke-width="1.2"/>
<line x1="195.55" y1="466.1" x2="195.55" y2="469.1" stroke="#000" stroke-width="1.2"/>
<line x1="220.20" y1="466.1" x2="220.20" y2="471.3" stroke="#000" stroke-width="1.2"/>
<line x1="244.85" y1="466.1" x2="244.85" y2="469.1" stroke="#000" stroke-width="1.2"/>
<line x1="269.50" y1="466.1" x2="269.50" y2="471.3" stroke="#000" stroke-width="1.2"/>
<line x1="294.15" y1="466.1" x2="294.15" y2="469.1" stroke="#000" stroke-width="1.2"/>
<line x1="318.80" y1="466.1" x2="318.80" y2="471.3" stroke="#000" stroke-width="1.2"/>
<line x1="343.45" y1="466.1" x2="343.45" y2="469.1" stroke="#000" stroke-width="1.2"/>
<line x1="368.10" y1="466.1" x2="368.10" y2="471.3" stroke="#000" stroke-width="1.2"/>
<line x1="367.7" y1="254.1" x2="412" y2="336.2" stroke="#000" stroke-width="1.25"/>
<line x1="368.4" y1="338.8" x2="412" y2="423.4" stroke="#000" stroke-width="1.25"/>
<line x1="365.7" y1="360.9" x2="412" y2="432.9" stroke="#000" stroke-width="1.25"/>
<line x1="400.2" y1="466.5" x2="410" y2="466.5" stroke="#222" stroke-width="0.9"/>
<line x1="176.3" y1="434.5" x2="150" y2="439.4" stroke="#000" stroke-width="0.9"/>
<polygon points="143.6,440.6 151.9,437.0 152.6,441.4" fill="#000"/>
</svg>
<div class="yl" style="top:457.0px">0</div>
<div class="yl" style="top:420.8px">2</div>
<div class="yl" style="top:384.5px">4</div>
<div class="yl" style="top:348.3px">6</div>
<div class="yl" style="top:312.0px">8</div>
<div class="yl" style="top:275.8px">10</div>
<div class="yl" style="top:239.6px">12</div>
<div class="yl" style="top:203.3px">14</div>
<div class="xl" style="left:101.6px">1,0</div>
<div class="xl" style="left:150.9px">1,2</div>
<div class="xl" style="left:200.2px">1,4</div>
<div class="xl" style="left:249.5px">1,6</div>
<div class="xl" style="left:298.8px">1,8</div>
<div class="xl" style="left:348.1px">2,0</div>
<div class="fc">Frank-Condon region</div>
<div class="xt">R (&#197;)</div>
<div class="yt"><span>KER (eV)</span></div>
<div class="nn">N</div>
</body></html>
